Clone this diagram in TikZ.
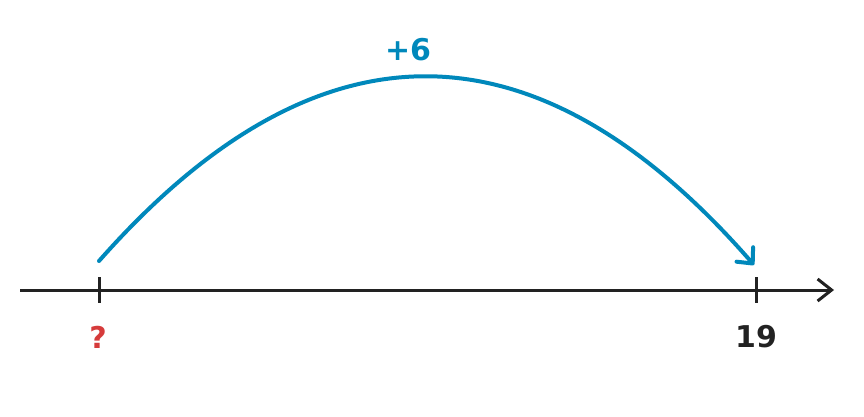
\documentclass[tikz,border=0pt]{standalone}
\usepackage{fontspec}
\setmainfont{DejaVu Sans}
\usetikzlibrary{arrows.meta}
\definecolor{arcblue}{HTML}{0088BB}
\definecolor{axisdark}{HTML}{222222}
\definecolor{qred}{HTML}{D63B3B}
\tikzset{
  axisline/.style={draw=axisdark, line width=3pt, -{Straight Barb[length=14pt,width=22pt,line width=3pt]}},
  tickline/.style={draw=axisdark, line width=3pt},
  jump/.style={draw=arcblue, line width=4pt, line cap=round, -{Straight Barb[length=12pt,width=22pt,line width=4pt,round]}},
  lab/.style={font=\fontsize{30}{32}\selectfont\bfseries, inner sep=0pt, anchor=center},
}
\begin{document}
\begin{tikzpicture}[x=1pt,y=-1pt]
\useasboundingbox (0,0) rectangle (864,416);
\coordinate (L) at (20,290);
\coordinate (R) at (834,290);
\coordinate (A1) at (99,277);
\coordinate (A2) at (99,303);
\coordinate (B1) at (756,277);
\coordinate (B2) at (756,303);
\coordinate (S) at (99,261);
\coordinate (E) at (754,265);
\coordinate (C1) at (317,14);
\coordinate (C2) at (536,15);
\draw[axisline] (L) -- (R);
\draw[tickline] (A1) -- (A2);
\draw[tickline] (B1) -- (B2);
\draw[jump] (S) .. controls (C1) and (C2) .. (E);
\node[lab, text=arcblue] (plus) at (408,50) {+6};
\node[lab, text=qred] (q) at (98,337) {?};
\node[lab, text=axisdark] (n19) at (756,337) {19};
\end{tikzpicture}
\end{document}
